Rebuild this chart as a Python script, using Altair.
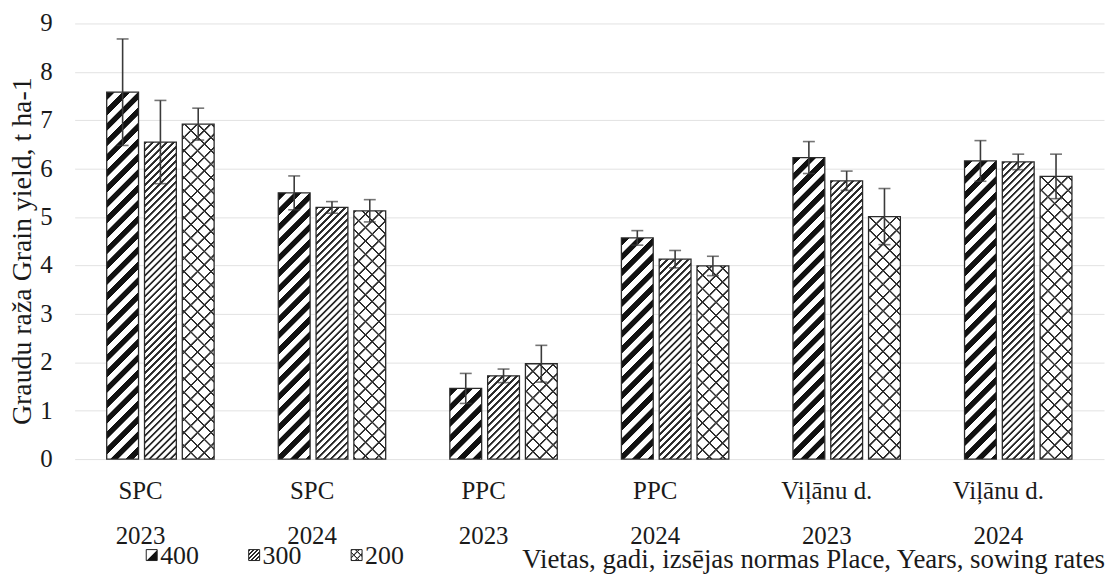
import altair as alt

# ---------------- data ----------------
PLACES = ["SPC", "SPC", "PPC", "PPC", "Viļānu d.", "Viļānu d."]
YEARS = ["2023", "2024", "2023", "2024", "2023", "2024"]
RATES = ["400", "300", "200"]

YIELD_400 = [7.58, 5.50, 1.46, 4.57, 6.23, 6.16]
YIELD_300 = [6.55, 5.20, 1.72, 4.13, 5.75, 6.14]
YIELD_200 = [6.92, 5.13, 1.97, 3.99, 5.01, 5.84]
ERR_400 = [1.10, 0.35, 0.31, 0.15, 0.33, 0.42]
ERR_300 = [0.86, 0.12, 0.14, 0.18, 0.20, 0.16]
ERR_200 = [0.33, 0.23, 0.38, 0.20, 0.58, 0.46]

Y_TICKS = list(range(10))
Y_TITLE = "Graudu raža Grain yield,  t ha-1"
X_TITLE = "Vietas, gadi, izsējas normas Place, Years, sowing rates"

# ---------------- layout / style ----------------
W, H, YMAX = 1035, 438, 9
STEP = W / 6
GROUP_BW = 114
PAD_IN = 1 - GROUP_BW / STEP
BAR_W = 32
FONT = "Liberation Serif"
TXT = "#1a1a1a"

PATTERN = {
    "400": dict(period=15.5, duty=0.5, color="#111111"),
    "300": dict(period=7.0, duty=0.38, color="#2a2a2a"),
    "200": dict(period=13.5, duty=0.17, color="#2e2e2e"),
}


def stripes(w, h, period, duty, color, bg="#ffffff", direction="/", phase=0.0, soft=0.7):
    """Linear gradient (bounding-box units) that draws 45-degree stripes."""
    L = w + h
    k = L / (w * w + h * h)
    a, b = w * k, h * k
    if direction == "/":
        x1, y1, x2, y2 = 0, 0, a, b
    else:
        x1, y1, x2, y2 = 0, 1, a, 1 - b
    stops = []
    i = -1
    while True:
        start = phase + i * period
        if start > L:
            break
        end = start + duty * period
        for off, col in ((start, bg), (start + soft, color), (end, color), (end + soft, bg)):
            o = off / L
            if 0 < o < 1:
                stops.append({"offset": round(o, 5), "color": col})
        i += 1
    return {"gradient": "linear", "x1": round(x1, 5), "y1": round(y1, 5),
            "x2": round(x2, 5), "y2": round(y2, 5), "stops": stops}


YIELDS = {"400": YIELD_400, "300": YIELD_300, "200": YIELD_200}
ERRS = {"400": ERR_400, "300": ERR_300, "200": ERR_200}
GROUPS = [f"{p} {y}" for p, y in zip(PLACES, YEARS)]

records = []
for gi, grp in enumerate(GROUPS):
    for r in RATES:
        v = YIELDS[r][gi]
        e = ERRS[r][gi]
        h = v / YMAX * H
        rec = {"group": grp, "place": PLACES[gi], "year": YEARS[gi], "rate": r,
               "value": v, "lo": v - e, "hi": v + e,
               "g1": stripes(BAR_W, h, **PATTERN[r], direction="/")}
        if r == "200":
            rec["g2"] = stripes(BAR_W, h, **PATTERN[r], bg="rgba(255,255,255,0)", direction="\\")
        records.append(rec)

bar_data = alt.Data(values=records)
lab_data = alt.Data(values=[{"group": g, "place": p, "year": y} for g, p, y in zip(GROUPS, PLACES, YEARS)])
tick_data = alt.Data(values=[{"tick": t} for t in Y_TICKS])

X = alt.X("group:N", sort=GROUPS, axis=None,
          scale=alt.Scale(paddingInner=PAD_IN, paddingOuter=PAD_IN / 2))
XO = alt.XOffset("rate:N", sort=RATES,
                 scale=alt.Scale(paddingInner=6 / 38, paddingOuter=3 / 38))

Y_AXIS = alt.Axis(values=Y_TICKS, grid=True, gridColor="#e2e2e2", gridWidth=1,
                  domain=False, ticks=False, labels=False, title=None)


def Y(field):
    return alt.Y(field, title=None, scale=alt.Scale(domain=[0, YMAX], nice=False), axis=Y_AXIS)


bars = alt.Chart(bar_data).mark_bar().encode(
    x=X, xOffset=XO, y=Y("value:Q"),
    fill=alt.Fill("g1:N", scale=None),
)
cross = alt.Chart(bar_data).transform_filter(alt.datum.rate == "200").mark_bar().encode(
    x=X, xOffset=XO, y=Y("value:Q"),
    fill=alt.Fill("g2:N", scale=None),
)
outline = alt.Chart(bar_data).mark_bar(fillOpacity=0, stroke="#2b2b2b", strokeWidth=1.3).encode(
    x=X, xOffset=XO, y=Y("value:Q"),
)
ERR_COL = "#3a3a3a"
err = alt.Chart(bar_data).mark_rule(color=ERR_COL, strokeWidth=1.6).encode(
    x=X, xOffset=XO, y=Y("lo:Q"), y2="hi:Q",
)
cap_hi = alt.Chart(bar_data).mark_tick(color=ERR_COL, size=12, thickness=1.6).encode(
    x=X, xOffset=XO, y=Y("hi:Q"),
)
cap_lo = alt.Chart(bar_data).mark_tick(color=ERR_COL, size=12, thickness=1.6).encode(
    x=X, xOffset=XO, y=Y("lo:Q"),
)

# y tick labels and y title drawn as text (serif)
y_labels = alt.Chart(tick_data).mark_text(font=FONT, fontSize=25, color=TXT, align="right",
                                          baseline="middle").encode(
    x=alt.value(-22), y=Y("tick:Q"), text="tick:Q",
)
y_title = alt.Chart(alt.Data(values=[{"t": Y_TITLE}])).mark_text(
    font=FONT, fontSize=28, color=TXT, angle=270, align="center", baseline="middle").encode(
    x=alt.value(-52), y=alt.value(229), text="t:N",
)

place_lab = alt.Chart(lab_data).mark_text(font=FONT, fontSize=25, color=TXT, baseline="middle", dx=-20).encode(
    x=X, y=alt.value(470), text="place:N",
)
year_lab = alt.Chart(lab_data).mark_text(font=FONT, fontSize=25, color=TXT, baseline="middle", dx=-20).encode(
    x=X, y=alt.value(515), text="year:N",
)
x_title = alt.Chart(alt.Data(values=[{"t": X_TITLE}])).mark_text(
    font=FONT, fontSize=27, color=TXT, align="right", baseline="alphabetic").encode(
    x=alt.value(1036), y=alt.value(548), text="t:N",
)

# manual legend with pattern swatches
LEG_X0, LEG_STEP, LEG_Y0, SW = 72, 103, 529, 11
LEG_PAT = {
    "400": [dict(period=22, duty=0.5, color="#111111", phase=11, direction="/")],
    "300": [dict(period=4.0, duty=0.45, color="#2a2a2a", direction="/")],
    "200": [dict(period=7.0, duty=0.25, color="#2e2e2e", direction="/"),
            dict(period=7.0, duty=0.25, color="#2e2e2e", bg="rgba(255,255,255,0)", direction="\\")],
}
legend_layers = []
for i, r in enumerate(RATES):
    x0 = LEG_X0 + i * LEG_STEP
    d = alt.Data(values=[{"rate": r}])
    for p in LEG_PAT[r]:
        legend_layers.append(alt.Chart(d).mark_rect().encode(
            x=alt.value(x0), x2=alt.value(x0 + SW), y=alt.value(LEG_Y0), y2=alt.value(LEG_Y0 + SW),
            fill=alt.value(stripes(SW, SW, **p)),
        ))
    legend_layers.append(alt.Chart(d).mark_rect(fillOpacity=0, stroke="#222222", strokeWidth=1).encode(
        x=alt.value(x0), x2=alt.value(x0 + SW), y=alt.value(LEG_Y0), y2=alt.value(LEG_Y0 + SW),
    ))
    legend_layers.append(alt.Chart(d).mark_text(font=FONT, fontSize=26, color=TXT, align="left",
                                                baseline="middle").encode(
        x=alt.value(x0 + 14), y=alt.value(LEG_Y0 + 6), text="rate:N",
    ))

chart = alt.layer(
    bars, cross, outline, err, cap_hi, cap_lo, y_labels, y_title,
    place_lab, year_lab, x_title, *legend_layers
).properties(
    width=W, height=H,
    autosize=alt.AutoSizeParams(type="none"),
    padding={"left": 67, "top": 14, "right": 3, "bottom": 116},
    background="white",
).configure_view(stroke=None)

chart.save("out.html", embed_options={"renderer": "svg", "actions": False})
